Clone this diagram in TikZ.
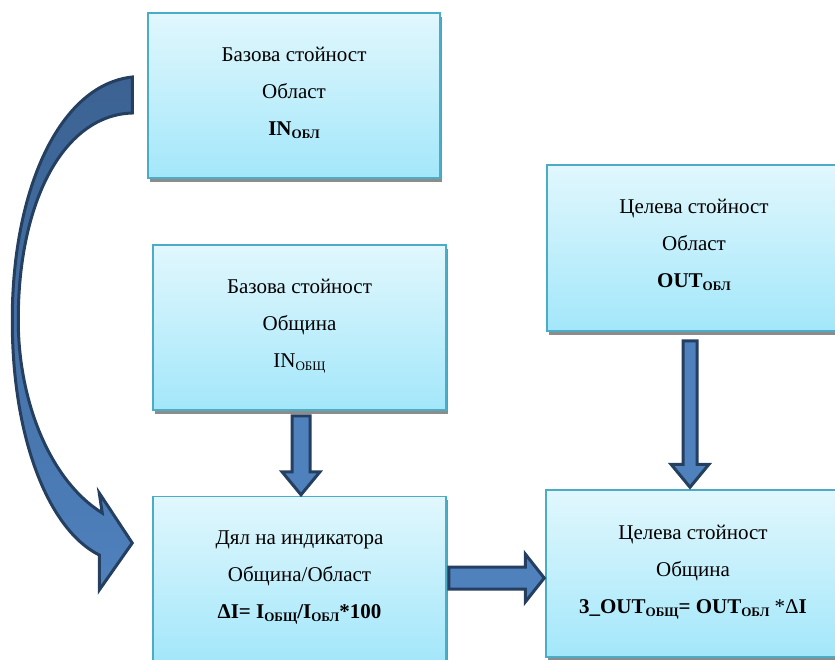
\documentclass[tikz,border=0pt]{standalone}
\usepackage{fontspec}
\setmainfont{Liberation Serif}
\usetikzlibrary{calc,shadows}
\definecolor{boxtop}{HTML}{E1F7FD}
\definecolor{boxbot}{HTML}{A3E7FA}
\definecolor{boxline}{HTML}{4BACC6}
\definecolor{arrfill}{HTML}{4F81BD}
\definecolor{arrdark}{HTML}{3B6292}
\definecolor{arrline}{HTML}{243F60}
\newcommand\lowidx[1]{\raisebox{-3pt}{\fontsize{13}{13}\selectfont #1}}
\newcommand\lowfill{\rule[-9pt]{0pt}{1pt}}
\begin{document}
\begin{tikzpicture}[x=1pt,y=-1pt,
  infobox/.style={draw=boxline, line width=1.5pt, top color=boxtop, bottom color=boxbot,
    align=center, font=\fontsize{21}{37}\selectfont, inner sep=0pt,
    drop shadow={shadow xshift=1.5pt, shadow yshift=-3.5pt, fill=black!45, opacity=1}},
  blockarrow/.style={draw=arrline, line width=3pt, fill=arrfill, line join=miter}]
\useasboundingbox (0,0) rectangle (835,659);

\node[infobox, minimum width=292pt, minimum height=165pt] (b1) at (294,95.5)
  {Базова стойност\\Област\\\textbf{IN\lowidx{ОБЛ}}\lowfill};
\node[infobox, minimum width=293pt, minimum height=165pt] (b2) at (299.5,327.5)
  {Базова стойност\\Община\\IN\lowidx{ОБЩ}\lowfill};
\node[infobox, minimum width=293pt, minimum height=165pt] (b3) at (299.5,579)
  {Дял на индикатора\\Община/Област\\\textbf{ΔI= I\lowidx{ОБЩ}/I\lowidx{ОБЛ}*100}\lowfill};
\node[infobox, minimum width=294pt, minimum height=166pt] (b4) at (694,248)
  {Целева стойност\\Област\\\textbf{OUT\lowidx{ОБЛ}}\lowfill};
\node[infobox, minimum width=294pt, minimum height=167pt] (b5) at (693,573.5)
  {Целева стойност\\Община\\\textbf{3\_OUT\lowidx{ОБЩ}= OUT\lowidx{ОБЛ} {\mdseries *Δ}I}\lowfill};

% straight block arrows
\draw[blockarrow] let \p1=($(b2.south)+(1.5,5)$), \p2=(b3.north) in
  (\x1-9pt,\y1) -- (\x1+9pt,\y1) -- (\x1+9pt,\y2+24pt) -- (\x1+19pt,\y2+24pt)
  -- (\x1,\y2+1pt) -- (\x1-19pt,\y2+24pt) -- (\x1-9pt,\y2+24pt) -- cycle;
\draw[blockarrow] let \p1=($(b4.south)+(-4,9)$), \p2=(b5.north) in
  (\x1-7pt,\y1) -- (\x1+7pt,\y1) -- (\x1+7pt,\y2+25pt) -- (\x1+19pt,\y2+25pt)
  -- (\x1,\y2+2pt) -- (\x1-19pt,\y2+25pt) -- (\x1-7pt,\y2+25pt) -- cycle;
\draw[blockarrow] let \p1=($(b3.east)+(2,-1)$), \p2=(b5.west) in
  (\x1,\y1+11pt) -- (\x2-20pt,\y1+11pt) -- (\x2-20pt,\y1+24pt) -- (\x2-1pt,\y1)
  -- (\x2-20pt,\y1-24pt) -- (\x2-20pt,\y1-11pt) -- (\x1,\y1-11pt) -- cycle;

% curved block arrow from b1 to b3
\coordinate (ctop) at ($(b1.west)+(-15,0)$);
\coordinate (ctip) at ($(b3.west)+(-20,-36)$);
\begin{scope}[shift={(ctop)}]
\path[draw=arrline, line width=3pt, line join=miter, top color=arrdark, bottom color=arrfill]
  (0,-18.5) .. controls (-73,-10.5) and (-120,94.5) .. (-120,224.5)
  .. controls (-120,344.5) and (-83,434.5) .. (-33,459.5)
  -- (-33,494.5) -- (ctip) -- (-33,397.5) -- (-30,417.5)
  .. controls (-83,384.5) and (-114,304.5) .. (-114,224.5)
  .. controls (-114,104.5) and (-68,19.5) .. (0,17.5) -- cycle;
\end{scope}
\end{tikzpicture}
\end{document}
